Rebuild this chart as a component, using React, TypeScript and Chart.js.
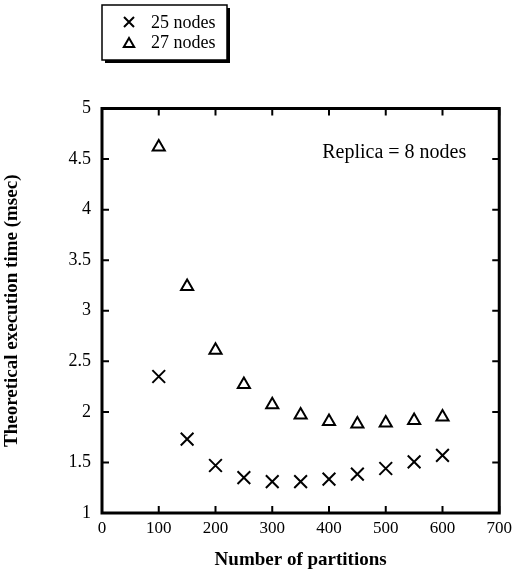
import React, { useEffect, useRef } from 'react';
import { Chart, registerables } from 'chart.js';

Chart.register(...registerables);

const partitions = [100, 150, 200, 250, 300, 350, 400, 450, 500, 550, 600];
const nodes25 = [2.35, 1.73, 1.47, 1.35, 1.31, 1.31, 1.335, 1.385, 1.44, 1.505, 1.57];
const nodes27 = [4.62, 3.24, 2.61, 2.27, 2.07, 1.97, 1.905, 1.88, 1.89, 1.915, 1.95];
const xTickValues = [0, 100, 200, 300, 400, 500, 600, 700];
const yTickValues = [1, 1.5, 2, 2.5, 3, 3.5, 4, 4.5, 5];
const seriesNames = ['25 nodes', '27 nodes'];
const annotationText = 'Replica = 8 nodes';
const annotationPos = { x: 388, y: 4.56 };
const xTitle = 'Number of partitions';
const yTitle = 'Theoretical execution time (msec)';

const FONT = "'Liberation Serif', 'Times New Roman', serif";

function drawCross(ctx: CanvasRenderingContext2D, x: number, y: number, r: number) {
  ctx.beginPath();
  ctx.moveTo(x - r, y - r);
  ctx.lineTo(x + r, y + r);
  ctx.moveTo(x + r, y - r);
  ctx.lineTo(x - r, y + r);
  ctx.stroke();
}

function drawTri(ctx: CanvasRenderingContext2D, x: number, y: number, r: number) {
  ctx.beginPath();
  ctx.moveTo(x, y - r);
  ctx.lineTo(x + r * 0.866, y + r * 0.5);
  ctx.lineTo(x - r * 0.866, y + r * 0.5);
  ctx.closePath();
  ctx.stroke();
}

const decorPlugin = {
  id: 'decor',
  afterDraw(chart: any) {
    const { ctx, chartArea } = chart;
    const xs = chart.scales.x;
    const ys = chart.scales.y;
    ctx.save();
    ctx.strokeStyle = '#000';
    // frame
    ctx.lineWidth = 3;
    ctx.strokeRect(chartArea.left, chartArea.top, chartArea.right - chartArea.left, chartArea.bottom - chartArea.top);
    // inward ticks
    ctx.lineWidth = 2;
    const tl = 7;
    ctx.beginPath();
    xTickValues.forEach((v) => {
      const px = xs.getPixelForValue(v);
      ctx.moveTo(px, chartArea.bottom);
      ctx.lineTo(px, chartArea.bottom - tl);
      ctx.moveTo(px, chartArea.top);
      ctx.lineTo(px, chartArea.top + tl);
    });
    yTickValues.forEach((v) => {
      const py = ys.getPixelForValue(v);
      ctx.moveTo(chartArea.left, py);
      ctx.lineTo(chartArea.left + tl, py);
      ctx.moveTo(chartArea.right, py);
      ctx.lineTo(chartArea.right - tl, py);
    });
    ctx.stroke();

    // annotation
    ctx.fillStyle = '#000';
    ctx.font = `20px ${FONT}`;
    ctx.textAlign = 'left';
    ctx.textBaseline = 'middle';
    ctx.fillText(annotationText, xs.getPixelForValue(annotationPos.x), ys.getPixelForValue(annotationPos.y));

    // legend box
    const bx = 102, by = 5, bw = 125, bh = 55;
    ctx.fillStyle = '#000';
    ctx.fillRect(bx + 3, by + bh, bw, 3);
    ctx.fillRect(bx + bw, by + 3, 3, bh);
    ctx.lineWidth = 1.5;
    ctx.strokeRect(bx, by, bw, bh);
    ctx.lineWidth = 2;
    drawCross(ctx, 129, 22, 5);
    drawTri(ctx, 129, 44, 6);
    ctx.font = `18px ${FONT}`;
    ctx.fillText(seriesNames[0], 151, 23);
    ctx.fillText(seriesNames[1], 151, 43);
    ctx.restore();
  },
};

export default function App() {
  const ref = useRef<HTMLCanvasElement | null>(null);
  useEffect(() => {
    document.body.style.margin = '0';
    const canvas = ref.current!;
    const chart = new Chart(canvas, {
      type: 'scatter',
      data: {
        datasets: [
          {
            label: seriesNames[0],
            data: partitions.map((p, i) => ({ x: p, y: nodes25[i] })),
            pointStyle: 'crossRot',
            pointRadius: 9,
            borderColor: '#000',
            backgroundColor: '#000',
            pointBorderWidth: 2,
            showLine: false,
          },
          {
            label: seriesNames[1],
            data: partitions.map((p, i) => ({ x: p, y: nodes27[i] })),
            pointStyle: 'triangle',
            pointRadius: 7,
            borderColor: '#000',
            backgroundColor: 'rgba(0,0,0,0)',
            pointBorderWidth: 2,
            showLine: false,
          },
        ],
      },
      options: {
        responsive: false,
        animation: false,
        layout: { padding: { left: 0, top: 108.5, right: 17, bottom: 0 } },
        plugins: { legend: { display: false }, tooltip: { enabled: false } },
        scales: {
          x: {
            type: 'linear',
            min: 0,
            max: 700,
            grid: { display: false, drawTicks: false },
            border: { display: false },
            afterBuildTicks: (s: any) => {
              s.ticks = xTickValues.map((v) => ({ value: v }));
            },
            afterFit: (s: any) => {
              s.height = 68;
            },
            ticks: {
              color: '#000',
              padding: 5,
              maxRotation: 0,
              font: { family: FONT, size: 17 },
              callback: (v: any) => String(v),
            },
            title: {
              display: true,
              text: xTitle,
              color: '#000',
              font: { family: FONT, size: 19, weight: 'bold' },
              padding: { top: 0, bottom: 10 },
            },
          },
          y: {
            type: 'linear',
            min: 1,
            max: 5,
            grid: { display: false, drawTicks: false },
            border: { display: false },
            afterBuildTicks: (s: any) => {
              s.ticks = yTickValues.map((v) => ({ value: v }));
            },
            afterFit: (s: any) => {
              s.width = 102;
            },
            ticks: {
              color: '#000',
              padding: 11,
              font: { family: FONT, size: 18 },
              callback: (v: any) => String(v),
            },
            title: {
              display: true,
              text: yTitle,
              color: '#000',
              font: { family: FONT, size: 19, weight: 'bold' },
              padding: { top: 1, bottom: 0 },
            },
          },
        },
      },
      plugins: [decorPlugin],
    });
    return () => chart.destroy();
  }, []);
  return <canvas ref={ref} width={517} height={581} style={{ display: 'block', width: 517, height: 581 }} />;
}
